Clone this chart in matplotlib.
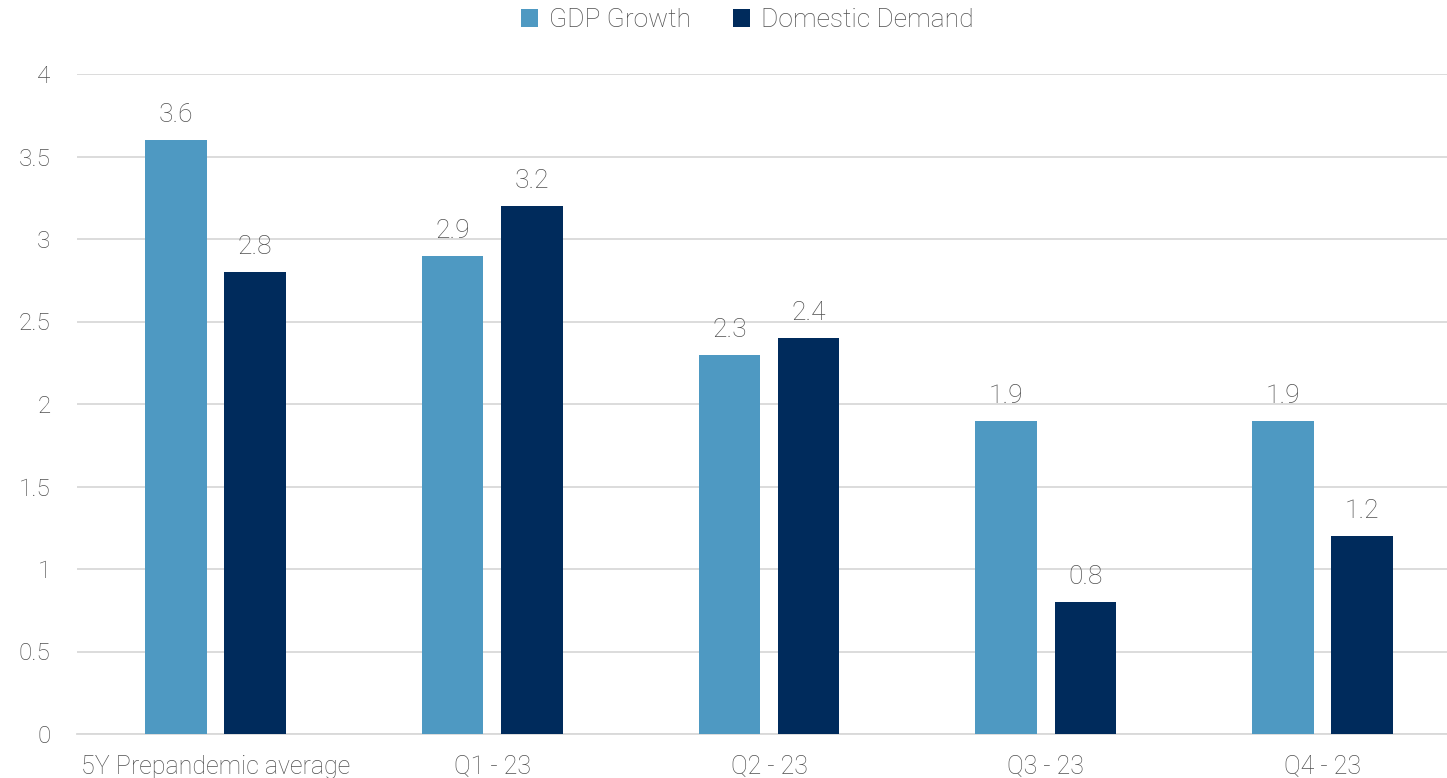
import matplotlib.pyplot as plt
import numpy as np
from matplotlib.patches import Patch

categories = ["5Y Prepandemic average", "Q1 - 23", "Q2 - 23", "Q3 - 23", "Q4 - 23"]
gdp_growth = [3.6, 2.9, 2.3, 1.9, 1.9]
domestic_demand = [2.8, 3.2, 2.4, 0.8, 1.2]
yticks = [0, 0.5, 1, 1.5, 2, 2.5, 3, 3.5, 4]
ytick_labels = ["0", "0.5", "1", "1.5", "2", "2.5", "3", "3.5", "4"]

light_blue = "#4E99C2"
navy = "#002B5C"
text_gray = "#505050"
grid_gray = "#D9D9D9"

plt.rcParams["font.family"] = ["Roboto", "DejaVu Sans"]
plt.rcParams["font.weight"] = "light"

fig = plt.figure(figsize=(14.47, 7.78), dpi=100)
ax = fig.add_axes([77 / 1447, 1 - 734 / 778, 1384 / 1447, 660 / 778])

x = np.arange(len(categories))
width = 0.223
offset = 0.143

b1 = ax.bar(x - offset, gdp_growth, width, color=light_blue, zorder=3)
b2 = ax.bar(x + offset, domestic_demand, width, color=navy, zorder=3)

for bars, vals in ((b1, gdp_growth), (b2, domestic_demand)):
    for rect, v in zip(bars, vals):
        ax.annotate(f"{v:.1f}", (rect.get_x() + rect.get_width() / 2, v),
                    xytext=(0, 9), textcoords="offset points",
                    ha="center", va="bottom", fontsize=19, color=text_gray,
                    fontweight="light")

ax.set_xlim(-0.5, len(categories) - 0.5)
ax.set_ylim(0, 4)
ax.set_yticks(yticks)
ax.set_yticklabels(ytick_labels, fontweight="light", fontsize=17.5)
ax.set_xticks(x)
ax.set_xticklabels(categories, fontweight="light", fontsize=18)
ax.tick_params(axis="both", length=0, colors=text_gray)
ax.tick_params(axis="y", pad=19)
ax.tick_params(axis="x", pad=15)

ax.grid(axis="y", color=grid_gray, linewidth=1.3, zorder=0)
for s in ["top", "right", "left"]:
    ax.spines[s].set_visible(False)
ax.spines["bottom"].set_color(grid_gray)
ax.spines["bottom"].set_linewidth(1.3)

handles = [Patch(facecolor=light_blue, label="GDP Growth"),
           Patch(facecolor=navy, label="Domestic Demand")]
leg = fig.legend(handles=handles, loc="center", bbox_to_anchor=(747 / 1447, 1 - 20 / 778),
                 ncol=2, frameon=False, fontsize=19, handlelength=0.65, handleheight=0.65,
                 handletextpad=0.4, columnspacing=1.6)
for t in leg.get_texts():
    t.set_color(text_gray)
    t.set_fontweight("light")

fig.savefig("out.png", dpi=100)
